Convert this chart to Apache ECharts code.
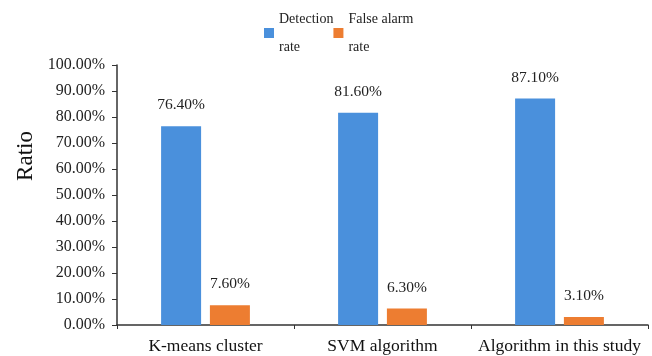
<!DOCTYPE html>
<html>
<head>
<meta charset="utf-8">
<script src="https://cdn.jsdelivr.net/npm/echarts@6/dist/echarts.min.js"></script>
<style>html,body{margin:0;padding:0;background:#fff;}#c{width:652px;height:356px;}</style>
</head>
<body>
<div id="c"></div>
<script>
const categories = ['K-means cluster', 'SVM algorithm', 'Algorithm in this study'];
const seriesNames = ['Detection\nrate', 'False alarm\nrate'];
const detectionRate = [76.4, 81.6, 87.1];
const falseAlarmRate = [7.6, 6.3, 3.1];
const yTicks = [0, 10, 20, 30, 40, 50, 60, 70, 80, 90, 100];

const FONT = '"Liberation Serif", "Times New Roman", serif';
const chart = echarts.init(document.getElementById('c'));
const labelOpt = {
  show: true, position: 'top', distance: 13,
  formatter: p => p.value.toFixed(2) + '%',
  fontFamily: FONT, fontSize: 15.5, color: '#222'
};
chart.setOption({
  animation: false,
  backgroundColor: '#fff',
  legend: {
    left: 259, top: 0, itemWidth: 10, itemHeight: 10, itemGap: 0,
    icon: 'rect',
    textStyle: { fontFamily: FONT, fontSize: 14, color: '#222', lineHeight: 28 },
    data: seriesNames
  },
  grid: { left: 117, right: 4, top: 65, bottom: 31 },
  xAxis: {
    type: 'category', data: categories,
    axisLine: { lineStyle: { color: '#333', width: 1.5 } },
    axisTick: { show: true, length: 4, lineStyle: { color: '#333' } },
    axisLabel: { interval: 0, fontFamily: FONT, fontSize: 17.5, color: '#111', margin: 12 }
  },
  yAxis: {
    type: 'value', min: yTicks[0], max: yTicks[yTicks.length - 1], interval: 10,
    axisLine: { show: true, lineStyle: { color: '#333', width: 1.5 } },
    axisTick: { show: true, length: 5, lineStyle: { color: '#333' } },
    splitLine: { show: false },
    axisLabel: { fontFamily: FONT, fontSize: 16, color: '#222', margin: 12,
      formatter: v => v.toFixed(2) + '%' }
  },
  graphic: [{
    type: 'text', x: 26, y: 156, rotation: Math.PI / 2,
    style: { text: 'Ratio', fontFamily: FONT, fontSize: 23, fill: '#111',
      textAlign: 'center', textVerticalAlign: 'middle' }
  }],
  series: [
    { name: seriesNames[0], type: 'bar', data: detectionRate, barWidth: 40, barGap: '22%',
      itemStyle: { color: '#4a90dc' }, label: labelOpt },
    { name: seriesNames[1], type: 'bar', data: falseAlarmRate, barWidth: 40, barGap: '22%',
      itemStyle: { color: '#ed7d31' }, label: labelOpt }
  ]
});
</script>
</body>
</html>
